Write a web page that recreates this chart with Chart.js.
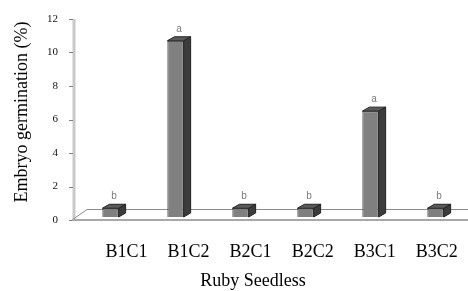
<!DOCTYPE html>
<html>
<head>
<meta charset="utf-8">
<script src="https://cdn.jsdelivr.net/npm/chart.js@4.4.1/dist/chart.umd.min.js"></script>
<style>
  html, body { margin: 0; padding: 0; background: #fff; }
  #wrap { width: 468px; height: 291px; }
</style>
</head>
<body>
<div id="wrap"><canvas id="germChart"></canvas></div>
<script>
// data
const categories = ['B1C1', 'B1C2', 'B2C1', 'B2C2', 'B3C1', 'B3C2'];
const germination = [0.7, 10.7, 0.7, 0.7, 6.5, 0.7];
const letters = ['b', 'a', 'b', 'b', 'a', 'b'];
const yTicks = [0, 2, 4, 6, 8, 10, 12];
const xTitle = 'Ruby Seedless';
const yTitle = 'Embryo germination (%)';

const DX = 7, DY = 4; // fake 3d depth

const box3d = {
  id: 'box3d',
  beforeDatasetsDraw(chart) {
    const { ctx, chartArea: a } = chart;
    const ys = chart.scales.y;
    ctx.save();
    // wall axis
    ctx.strokeStyle = '#c8c8c8'; ctx.lineWidth = 3;
    ctx.beginPath(); ctx.moveTo(a.left - 4, a.top); ctx.lineTo(a.left - 4, a.bottom); ctx.stroke();
    ctx.strokeStyle = '#808080'; ctx.lineWidth = 1;
    ys.ticks.forEach(t => {
      const py = Math.round(ys.getPixelForValue(t.value)) + 0.5;
      ctx.beginPath(); ctx.moveTo(a.left - 9, py); ctx.lineTo(a.left - 5, py); ctx.stroke();
    });
    // floor
    ctx.strokeStyle = '#8c8c8c'; ctx.lineWidth = 1;
    ctx.beginPath();
    ctx.moveTo(a.left - 6, a.bottom);
    ctx.lineTo(a.left + 9, a.bottom - 10.5);
    ctx.lineTo(a.right, a.bottom - 10.5);
    ctx.stroke();
    ctx.strokeStyle = '#a8a8a8'; ctx.lineWidth = 2;
    ctx.beginPath(); ctx.moveTo(a.left - 6, a.bottom); ctx.lineTo(a.right, a.bottom); ctx.stroke();
    ctx.restore();
  },
  afterDatasetsDraw(chart) {
    const ctx = chart.ctx;
    const meta = chart.getDatasetMeta(0);
    ctx.save();
    meta.data.forEach((el, i) => {
      const p = el.getProps(['x', 'y', 'base', 'width'], true);
      const l = p.x - p.width / 2, r = p.x + p.width / 2;
      ctx.strokeStyle = '#222'; ctx.lineWidth = 1;
      // side
      ctx.fillStyle = '#3c3c3c';
      ctx.beginPath();
      ctx.moveTo(r, p.y); ctx.lineTo(r + DX, p.y - DY); ctx.lineTo(r + DX, p.base - DY); ctx.lineTo(r, p.base);
      ctx.closePath(); ctx.fill(); ctx.stroke();
      // top
      ctx.fillStyle = '#5a5a5a';
      ctx.beginPath();
      ctx.moveTo(l, p.y); ctx.lineTo(l + DX, p.y - DY); ctx.lineTo(r + DX, p.y - DY); ctx.lineTo(r, p.y);
      ctx.closePath(); ctx.fill(); ctx.stroke();
      // letter
      ctx.fillStyle = '#7a7a7a';
      ctx.font = '10px "Liberation Sans"';
      ctx.textAlign = 'center'; ctx.textBaseline = 'alphabetic';
      ctx.fillText(letters[i], p.x + DX / 2, p.y - DY - 5);
    });
    ctx.restore();
  },
  afterDraw(chart) {
    const ctx = chart.ctx;
    ctx.save();
    ctx.fillStyle = '#000';
    ctx.font = '18px "Liberation Serif"';
    ctx.textAlign = 'center'; ctx.textBaseline = 'alphabetic';
    ctx.fillText(xTitle, 253, 286);
    ctx.translate(27, 112);
    ctx.rotate(-Math.PI / 2);
    ctx.fillText(yTitle, 0, 0);
    ctx.restore();
  }
};

new Chart(document.getElementById('germChart'), {
  type: 'bar',
  data: {
    labels: categories,
    datasets: [{
      data: germination,
      base: 0.18,
      backgroundColor: '#808080',
      borderColor: '#2a2a2a',
      borderWidth: 1,
      barPercentage: 0.25,
      categoryPercentage: 1
    }]
  },
  options: {
    responsive: true,
    maintainAspectRatio: false,
    animation: false,
    layout: { padding: { top: 19, right: 0, bottom: 0, left: 0 } },
    plugins: { legend: { display: false }, tooltip: { enabled: false } },
    scales: {
      x: { display: false, offset: true },
      // labels sit on their own linear axis, they are spaced tighter than the bars
      x2: {
        type: 'linear',
        position: 'bottom',
        offset: false,
        min: -0.78,
        max: 5.503,
        afterBuildTicks: s => { s.ticks = categories.map((c, i) => ({ value: i })); },
        afterFit: s => { s.height = 71; s.paddingLeft = 0; s.paddingRight = 0; },
        grid: { display: false, drawTicks: false },
        border: { display: false },
        ticks: {
          callback: v => categories[v],
          autoSkip: false, maxRotation: 0, padding: 21,
          color: '#000',
          font: { family: 'Liberation Serif', size: 18 }
        }
      },
      y: {
        min: 0,
        max: 12,
        afterBuildTicks: s => { s.ticks = yTicks.map(v => ({ value: v })); },
        afterFit: s => { s.width = 78; s.paddingTop = 6; s.paddingBottom = 6; },
        grid: { display: false, drawTicks: false },
        border: { display: false },
        ticks: {
          padding: 20,
          color: '#111',
          font: { family: 'Liberation Serif', size: 11 }
        }
      }
    }
  },
  plugins: [box3d]
});
</script>
</body>
</html>
